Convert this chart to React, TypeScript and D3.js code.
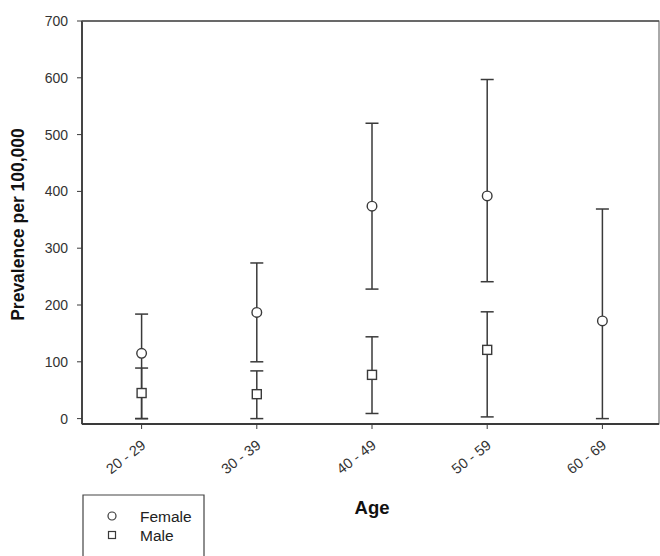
import React from "react";
import * as d3 from "d3";

const categories = ["20 - 29", "30 - 39", "40 - 49", "50 - 59", "60 - 69"];
const femaleValue = [115, 187, 374, 392, 172];
const femaleLower = [0, 100, 228, 241, 0];
const femaleUpper = [184, 274, 520, 597, 369];
const maleValue: (number | null)[] = [45, 43, 77, 121, null];
const maleLower: (number | null)[] = [0, 0, 9, 3, null];
const maleUpper: (number | null)[] = [89, 84, 144, 188, null];
const yTicks = [0, 100, 200, 300, 400, 500, 600, 700];

const W = 660, H = 556;
const left = 82, right = 659, top = 21, bottom = 424;

export default function App() {
  const x = d3.scalePoint<string>().domain(categories).range([84, 660]).padding(0.5);
  const y = d3.scaleLinear().domain([-9.5, 700]).range([bottom, top]);
  const ink = "#3a3a3a";
  const font = "Arial, 'Liberation Sans', sans-serif";
  const capW = 6.5;

  const errBar = (cx: number, lo: number, hi: number, key: string) => (
    <g key={key} stroke={ink} strokeWidth={1.5}>
      <line x1={cx} x2={cx} y1={y(lo)} y2={y(hi)} />
      <line x1={cx - capW} x2={cx + capW} y1={y(lo)} y2={y(lo)} />
      <line x1={cx - capW} x2={cx + capW} y1={y(hi)} y2={y(hi)} />
    </g>
  );

  return (
    <svg width={W} height={H} style={{ position: "absolute", left: 0, top: 0, background: "#fff" }} fontFamily={font}>
      <rect x={0} y={0} width={W} height={H} fill="#fff" />
      {/* frame */}
      <rect x={left} y={top} width={right - left} height={bottom - top} fill="none" stroke="#555" strokeWidth={1} />
      <line x1={left} x2={left} y1={top} y2={bottom} stroke={ink} strokeWidth={1.8} />
      <line x1={left} x2={right} y1={bottom} y2={bottom} stroke={ink} strokeWidth={1.8} />
      <line x1={left} x2={right} y1={top} y2={top} stroke="#555" strokeWidth={1.5} />
      {/* y ticks */}
      {yTicks.map((t) => (
        <g key={t}>
          <line x1={left - 5} x2={left} y1={y(t)} y2={y(t)} stroke={ink} strokeWidth={1} />
          <text x={left - 14} y={y(t)} dy="0.35em" textAnchor="end" fontSize={14} fill="#333">
            {t}
          </text>
        </g>
      ))}
      {/* x ticks */}
      {categories.map((c) => (
        <g key={c}>
          <line x1={x(c)!} x2={x(c)!} y1={bottom} y2={bottom + 5} stroke={ink} strokeWidth={1} />
          <text
            transform={`translate(${x(c)! + 5},${bottom + 23}) rotate(-38)`}
            textAnchor="end"
            fontSize={14.5}
            fill="#333"
          >
            {c}
          </text>
        </g>
      ))}
      {/* error bars */}
      {categories.map((c, i) => errBar(x(c)!, femaleLower[i], femaleUpper[i], "f" + i))}
      {categories.map((c, i) =>
        maleValue[i] == null ? null : errBar(x(c)!, maleLower[i] as number, maleUpper[i] as number, "m" + i)
      )}
      {/* markers */}
      {categories.map((c, i) =>
        maleValue[i] == null ? null : (
          <rect
            key={"ms" + i}
            x={x(c)! - 4.5}
            y={y(maleValue[i] as number) - 4.5}
            width={9}
            height={9}
            fill="#fff"
            stroke={ink}
            strokeWidth={1.4}
          />
        )
      )}
      {categories.map((c, i) => (
        <circle key={"fc" + i} cx={x(c)!} cy={y(femaleValue[i])} r={4.8} fill="#fff" stroke={ink} strokeWidth={1.4} />
      ))}
      {/* axis titles */}
      <text
        transform={`translate(24,${(top + bottom) / 2 + 2}) rotate(-90)`}
        textAnchor="middle"
        fontSize={17.5}
        fontWeight="bold"
        fill="#111"
      >
        Prevalence per 100,000
      </text>
      <text x={372} y={514} textAnchor="middle" fontSize={18.5} fontWeight="bold" fill="#111">
        Age
      </text>
      {/* legend */}
      <path d={`M83,${H + 2} V495 H204 V${H + 2}`} fill="none" stroke="#444" strokeWidth={1.2} />
      <circle cx={112} cy={516} r={4} fill="#fff" stroke={ink} strokeWidth={1.2} />
      <rect x={108.5} y={531.5} width={7} height={7} fill="#fff" stroke={ink} strokeWidth={1.2} />
      <text x={140} y={522} fontSize={15.5} fill="#222">Female</text>
      <text x={140} y={541} fontSize={15.5} fill="#222">Male</text>
    </svg>
  );
}
